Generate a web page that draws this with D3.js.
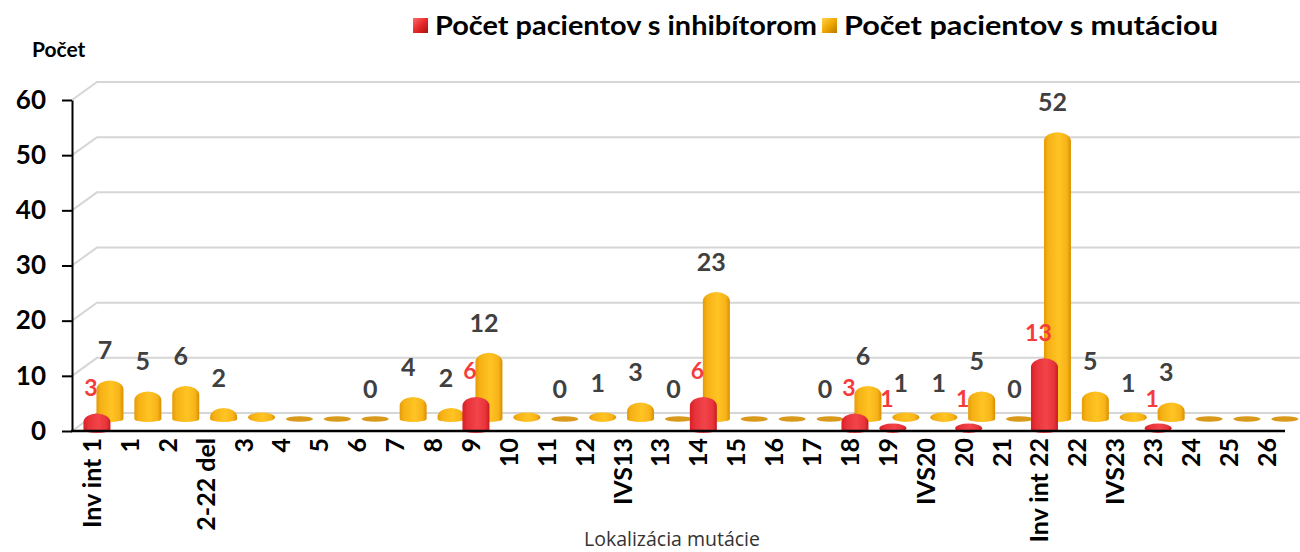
<!DOCTYPE html>
<html><head><meta charset="utf-8">
<script src="https://cdn.jsdelivr.net/npm/d3@7"></script>
<style>body{margin:0;background:#fff}svg{display:block}</style>
</head><body>
<svg id="c" width="1300" height="552"></svg>
<script>
const categories = ["Inv int 1","1","2","2-22 del","3","4","5","6","7","8","9","10","11","12","IVS13","13","14","15","16","17","18","19","IVS20","20","21","Inv int 22","22","IVS23","23","24","25","26"];
const inhibitor = [3,0,0,0,0,0,0,0,0,0,6,0,0,0,0,0,6,0,0,0,3,1,0,1,0,13,0,0,1,0,0,0];
const mutation  = [7,5,6,2,1,0,0,0,4,2,12,1,0,1,3,0,23,0,0,0,6,1,1,5,0,52,5,1,3,0,0,0];
const mutationLabelShown = [1,1,1,1,0,0,0,1,1,1,1,0,1,1,1,1,1,0,0,1,1,1,1,1,1,1,1,1,1,0,0,0];
const yTicks = [0,10,20,30,40,50,60];
const seriesNames = ["Počet pacientov s inhibítorom","Počet pacientov s mutáciou"];

const svg = d3.select("#c");
const defs = svg.append("defs");
function grad(id, stops){
  const g = defs.append("linearGradient").attr("id",id).attr("x1","0").attr("x2","1").attr("y1","0").attr("y2","0");
  stops.forEach(s=>g.append("stop").attr("offset",s[0]).attr("stop-color",s[1]));
}
grad("gY",[[0,"#e39a08"],[0.15,"#f6b114"],[0.55,"#ffc424"],[0.85,"#f7b318"],[1,"#d88f00"]]);
grad("gR",[[0,"#d81f25"],[0.2,"#e8333a"],[0.55,"#f2444a"],[0.85,"#e8343a"],[1,"#c81a20"]]);
const lgY = defs.append("linearGradient").attr("id","lY").attr("x1","0").attr("y1","0").attr("x2","1").attr("y2","1");
lgY.append("stop").attr("offset",0).attr("stop-color","#ffd34a");lgY.append("stop").attr("offset",0.5).attr("stop-color","#f0a800");lgY.append("stop").attr("offset",1).attr("stop-color","#b87800");
const lgR = defs.append("linearGradient").attr("id","lR").attr("x1","0").attr("y1","0").attr("x2","1").attr("y2","1");
lgR.append("stop").attr("offset",0).attr("stop-color","#ff6a6a");lgR.append("stop").attr("offset",0.5).attr("stop-color","#e82a2a");lgR.append("stop").attr("offset",1).attr("stop-color","#a81010");

const x = d3.scaleBand().domain(categories).range([78, 78+32*37.9]).padding(0);
const bw = x.bandwidth();
const yFront = d3.scaleLinear().domain([0,60]).range([431,100]);
const yBack  = d3.scaleLinear().domain([0,60]).range([413,82]);
const yYel   = d3.scaleLinear().domain([0,60]).range([419,88]);
const yRed   = d3.scaleLinear().domain([0,60]).range([430,99]);

// gridlines (side wall + back wall)
svg.append("g").selectAll("path").data(yTicks).join("path")
  .attr("d", v=>`M72,${yFront(v)} L97,${yBack(v)} L1300,${yBack(v)}`)
  .attr("fill","none").attr("stroke","#d6d6d6").attr("stroke-width",2);

const barW = 27;
function barPath(cx, yb, yt){
  const x0 = cx-barW/2, x1 = cx+barW/2, rx = barW/2;
  const h = yb-yt;
  const rt = Math.min(9, h);
  return `M${x0},${yb} L${x0},${yt+rt} A${rx},${rt} 0 0 1 ${x1},${yt+rt} L${x1},${yb} A${rx},3 0 0 1 ${x0},${yb} Z`;
}
function drawSeries(vals, yS, offset, fill, zeroFill, showZero){
  const g = svg.append("g");
  vals.forEach((v,i)=>{
    const cx = x(categories[i]) + bw/2 + offset;
    const yb = yS(0), yt = yS(v);
    if(v===0){
      if(showZero) g.append("ellipse").attr("cx",cx).attr("cy",yb).attr("rx",barW/2).attr("ry",2.8).attr("fill",zeroFill);
    } else if (yb-yt < 7) {
      g.append("ellipse").attr("cx",cx).attr("cy",(yb+yt)/2+1).attr("rx",barW/2).attr("ry",(yb-yt)/2+2).attr("fill",fill);
    } else {
      g.append("path").attr("d",barPath(cx,yb,yt)).attr("fill",fill);
    }
  });
}
drawSeries(mutation, yYel, 13, "url(#gY)", "#d99a1c", true);
drawSeries(inhibitor, yRed, 0, "url(#gR)", "#e02a2a", false);

// axes
const yAxis = svg.append("g").attr("transform","translate(72,0)")
  .call(d3.axisLeft(yFront).tickValues(yTicks).tickSize(10).tickSizeOuter(0).tickPadding(16).tickFormat(d3.format("d")));
yAxis.select(".domain").attr("stroke","#000").attr("stroke-width",2);
yAxis.selectAll(".tick line").attr("stroke","#000").attr("stroke-width",2);
yAxis.selectAll(".tick text").attr("font-family","Lato, sans-serif").attr("font-weight","bold").attr("font-size",26).attr("fill","#000");

svg.append("line").attr("x1",71).attr("x2",1285).attr("y1",431).attr("y2",431).attr("stroke","#000").attr("stroke-width",2.5);

const xAxis = svg.append("g").attr("transform","translate(0,431)")
  .call(d3.axisBottom(x).tickSize(0).tickSizeOuter(0));
xAxis.select(".domain").remove();
xAxis.selectAll(".tick text")
  .attr("x",0).attr("y",0).attr("dy","0.36em")
  .attr("transform","translate(-5,7) rotate(-90)")
  .attr("text-anchor","end")
  .attr("font-family","Lato, sans-serif").attr("font-weight","bold").attr("font-size",25).attr("fill","#000");

// value labels
svg.append("g").selectAll("text").data(mutation.map((v,i)=>({v,i})).filter(d=>mutationLabelShown[d.i])).join("text")
  .attr("x",d=>x(categories[d.i])+bw/2+13-5).attr("y",d=>yYel(d.v)-30).attr("dy","0.36em")
  .attr("text-anchor","middle").attr("font-family","Lato, sans-serif").attr("font-weight","bold")
  .attr("font-size",25).attr("fill","#404040").text(d=>d.v);
svg.append("g").selectAll("text").data(inhibitor.map((v,i)=>({v,i})).filter(d=>d.v>0)).join("text")
  .attr("x",d=>x(categories[d.i])+bw/2-6).attr("y",d=>yRed(d.v)-26).attr("dy","0.36em")
  .attr("text-anchor","middle").attr("font-family","Lato, sans-serif").attr("font-weight","bold")
  .attr("font-size",23).attr("fill","#f53b3b").text(d=>d.v);

// titles
svg.append("text").attr("x",32).attr("y",57).attr("font-family","Lato, sans-serif").attr("font-weight","bold").attr("font-size",21).attr("fill","#000").text("Počet");
svg.append("text").attr("x",672).attr("y",546).attr("text-anchor","middle").attr("font-family","'Open Sans', sans-serif").attr("font-size",19.5).attr("fill","#333").text("Lokalizácia mutácie");

// legend
const leg = [{x:413, fill:"url(#lR)", name:seriesNames[0], w:382},{x:822, fill:"url(#lY)", name:seriesNames[1], w:374}];
leg.forEach(l=>{
  svg.append("rect").attr("x",l.x).attr("y",18).attr("width",15).attr("height",15).attr("fill",l.fill);
  svg.append("text").attr("x",l.x+22).attr("y",35).attr("font-family","Lato, sans-serif").attr("font-weight","bold")
    .attr("font-size",26).attr("fill","#000").attr("textLength",l.w).attr("lengthAdjust","spacingAndGlyphs").text(l.name);
});
</script>
</body></html>
